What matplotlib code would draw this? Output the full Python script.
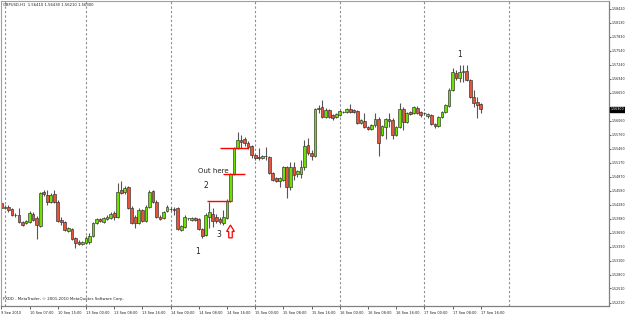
import matplotlib
matplotlib.use("Agg")
import matplotlib.pyplot as plt
import matplotlib.transforms as mtransforms
from matplotlib.patches import Polygon
import numpy as np

# ---------------- data (GBPUSD H1) ----------------
opens = [1.5432,1.5421,1.5423,1.5419,1.5406,1.5406,1.5391,1.5389,1.5391,1.5408,
         1.5400,1.5383,1.5455,1.5449,1.5434,1.5451,1.5434,1.5396,1.5392,1.5372,
         1.5377,1.5358,1.5349,1.5345,1.5347,1.5349,1.5362,1.5389,1.5398,1.5392,
         1.5398,1.5400,1.5411,1.5402,1.5459,1.5455,1.5466,1.5421,1.5402,1.5389,
         1.5417,1.5394,1.5423,1.5457,1.5434,1.5402,1.5400,1.5415,1.5420,1.5420,
         1.5421,1.5375,1.5381,1.5399,1.5396,1.5400,1.5398,1.5377,1.5364,1.5402,
         1.5408,1.5402,1.5398,1.5389,1.5400,1.5436,1.5493,1.5548,1.5565,1.5567,
         1.5559,1.5552,1.5533,1.5529,1.5527,1.5531,1.5529,1.5495,1.5484,1.5478,
         1.5480,1.5508,1.5466,1.5508,1.5493,1.5493,1.5508,1.5554,1.5537,1.5531,
         1.5633,1.5635,1.5614,1.5628,1.5618,1.5614,1.5618,1.5624,1.5624,1.5631,
         1.5628,1.5626,1.5601,1.5605,1.5592,1.5588,1.5597,1.5609,1.5576,1.5592,
         1.5609,1.5607,1.5576,1.5592,1.5631,1.5603,1.5624,1.5622,1.5633,1.5624,
         1.5621,1.5616,1.5618,1.5599,1.5595,1.5614,1.5624,1.5637,1.5671,1.5707,
         1.5696,1.5709,1.5711,1.5692,1.5656,1.5645,1.56410]
highs = [1.5438,1.5427,1.5427,1.5421,1.5411,1.5421,1.5394,1.5396,1.5415,1.5413,
         1.5404,1.5455,1.5459,1.5459,1.5453,1.5459,1.5438,1.5402,1.5394,1.5381,
         1.5379,1.5360,1.5353,1.5351,1.5362,1.5368,1.5392,1.5400,1.5400,1.5402,
         1.5406,1.5413,1.5415,1.5474,1.5478,1.5468,1.5468,1.5425,1.5406,1.5421,
         1.5419,1.5427,1.5459,1.5459,1.5438,1.5406,1.5415,1.5427,1.5423,1.5423,
         1.5423,1.5385,1.5406,1.5400,1.5402,1.5402,1.5400,1.5379,1.5411,1.5434,
         1.5421,1.5408,1.5402,1.5417,1.5440,1.5495,1.5550,1.5582,1.5576,1.5571,
         1.5563,1.5554,1.5535,1.5548,1.5533,1.5550,1.5531,1.5497,1.5487,1.5487,
         1.5510,1.5510,1.5518,1.5518,1.5501,1.5523,1.5565,1.5569,1.5544,1.5633,
         1.5639,1.5650,1.5633,1.5631,1.5620,1.5622,1.5628,1.5626,1.5633,1.5641,
         1.5631,1.5628,1.5609,1.5622,1.5594,1.5599,1.5622,1.5614,1.5597,1.5611,
         1.5622,1.5611,1.5594,1.5643,1.5635,1.5624,1.5626,1.5637,1.5637,1.5626,
         1.5624,1.5622,1.5620,1.5601,1.5616,1.5626,1.5641,1.5675,1.5717,1.5713,
         1.5724,1.5724,1.5724,1.5694,1.5671,1.5656,1.56430]
lows = [1.5417,1.5419,1.5413,1.5404,1.5402,1.5389,1.5383,1.5387,1.5389,1.5394,
        1.5355,1.5381,1.5447,1.5427,1.5432,1.5432,1.5392,1.5385,1.5372,1.5370,
        1.5353,1.5337,1.5343,1.5343,1.5345,1.5345,1.5360,1.5387,1.5392,1.5389,
        1.5396,1.5398,1.5396,1.5400,1.5451,1.5451,1.5419,1.5387,1.5379,1.5387,
        1.5392,1.5392,1.5421,1.5432,1.5400,1.5396,1.5398,1.5413,1.5415,1.5406,
        1.5375,1.5372,1.5379,1.5396,1.5394,1.5394,1.5375,1.5358,1.5362,1.5379,
        1.5381,1.5389,1.5387,1.5385,1.5398,1.5434,1.5491,1.5546,1.5548,1.5552,
        1.5546,1.5527,1.5523,1.5523,1.5525,1.5523,1.5493,1.5478,1.5476,1.5466,
        1.5478,1.5442,1.5459,1.5480,1.5487,1.5484,1.5501,1.5533,1.5523,1.5529,
        1.5622,1.5611,1.5611,1.5611,1.5607,1.5611,1.5616,1.5622,1.5622,1.5622,
        1.5622,1.5599,1.5599,1.5590,1.5586,1.5586,1.5592,1.5531,1.5573,1.5567,
        1.5592,1.5567,1.5573,1.5590,1.5586,1.5601,1.5618,1.5620,1.5620,1.5614,
        1.5618,1.5611,1.5597,1.5590,1.5592,1.5611,1.5622,1.5635,1.5669,1.5692,
        1.5688,1.5688,1.5690,1.5654,1.5635,1.5612,1.56210]
closes = [1.5421,1.5423,1.5417,1.5406,1.5407,1.5391,1.5385,1.5394,1.5411,1.5396,
          1.5385,1.5453,1.5451,1.5434,1.5449,1.5434,1.5394,1.5392,1.5375,1.5379,
          1.5356,1.5347,1.5345,1.5349,1.5358,1.5362,1.5389,1.5398,1.5394,1.5400,
          1.5402,1.5408,1.5402,1.5455,1.5453,1.5463,1.5421,1.5389,1.5389,1.5417,
          1.5394,1.5423,1.5455,1.5434,1.5402,1.5398,1.5413,1.5423,1.5419,1.5417,
          1.5377,1.5383,1.5402,1.5400,1.5400,1.5396,1.5377,1.5362,1.5406,1.5413,
          1.5394,1.5394,1.5391,1.5402,1.5436,1.5493,1.5548,1.5565,1.5561,1.5559,
          1.5550,1.5533,1.5527,1.5527,1.5531,1.5531,1.5495,1.5480,1.5478,1.5484,
          1.5508,1.5466,1.5508,1.5491,1.5499,1.5508,1.5552,1.5537,1.5531,1.5631,
          1.5631,1.5614,1.5628,1.5614,1.5611,1.5620,1.5626,1.5624,1.5631,1.5624,
          1.5624,1.5601,1.5607,1.5592,1.5588,1.5597,1.5609,1.5559,1.5595,1.5609,
          1.5605,1.5576,1.5592,1.5631,1.5603,1.5622,1.5620,1.5635,1.5622,1.5618,
          1.5622,1.5620,1.5599,1.5595,1.5614,1.5624,1.5639,1.5671,1.5709,1.5696,
          1.5709,1.5711,1.5692,1.5656,1.5643,1.5639,1.56300]

x_tick_labels = ["9 Sep 2010", "10 Sep 07:00", "10 Sep 15:00", "13 Sep 00:00",
                 "13 Sep 08:00", "13 Sep 16:00", "14 Sep 00:00", "14 Sep 08:00",
                 "14 Sep 16:00", "15 Sep 00:00", "15 Sep 08:00", "15 Sep 16:00",
                 "16 Sep 00:00", "16 Sep 08:00", "16 Sep 16:00", "17 Sep 00:00",
                 "17 Sep 08:00", "17 Sep 16:00"]
x_tick_step = 8
day_starts = [1, 24, 48, 72, 96, 120, 144]

y_tick_labels = ["1.58420", "1.58130", "1.57830", "1.57540", "1.57240", "1.56940",
                 "1.56650", "1.56060", "1.55760", "1.55460", "1.55170", "1.54870",
                 "1.54580", "1.54280", "1.53980", "1.53690", "1.53390", "1.53100",
                 "1.52800", "1.52510", "1.52210"]

title_text = "GBPUSD,H1  1.56410 1.56430 1.56210 1.56300"
footer_text = "FXDD - MetaTrader, \u00a9 2001-2010 MetaQuotes Software Corp."
current_price = "1.56300"

# ---------------- figure ----------------
W, H = 625, 314
fig = plt.figure(figsize=(W / 100, H / 100), dpi=100)
fig.patch.set_facecolor("white")
ax_l, ax_r, ax_t, ax_b = 1, 609, 1, 306
ax = fig.add_axes([ax_l / W, 1 - ax_b / H, (ax_r - ax_l) / W, (ax_b - ax_t) / H])
ax.set_facecolor("white")

n = len(opens)
xs = np.arange(n)
O = np.array(opens); Hh = np.array(highs); L = np.array(lows); C = np.array(closes)
up = C >= O

green = "#6ee000"
red = "#e4543a"
edge = "#2e2e2e"

# day separators
for d in day_starts:
    ax.axvline(d, color="#8c8c8c", lw=0.8, ls=(0, (2, 2)), zorder=0)

# wicks
ax.vlines(xs, L, Hh, color="#555555", lw=0.8, zorder=1)
# bodies
bw = 0.78
bottoms = np.minimum(O, C)
heights = np.abs(C - O)
ax.bar(xs[up], heights[up], bottom=bottoms[up], width=bw, color=green,
       edgecolor=edge, linewidth=0.45, zorder=2)
ax.bar(xs[~up], heights[~up], bottom=bottoms[~up], width=bw, color=red,
       edgecolor=edge, linewidth=0.45, zorder=2)

ax.set_xlim(-0.11, 172.4)
ax.set_ylim(1.52138, 1.58589)

# axes styling
for s in ["left", "top"]:
    ax.spines[s].set_color("#a0a0a0")
    ax.spines[s].set_linewidth(0.8)
for s in ["right", "bottom"]:
    ax.spines[s].set_color("#808080")
    ax.spines[s].set_linewidth(0.9)

ax.yaxis.tick_right()
ax.set_yticks([float(t) for t in y_tick_labels])
ax.set_yticklabels(y_tick_labels)
ax.tick_params(axis="y", labelsize=2.3, length=1.5, width=0.5, pad=0.6,
               colors="#202020", direction="out")
ax.set_xticks(np.arange(len(x_tick_labels)) * x_tick_step)
ax.set_xticklabels(x_tick_labels, ha="left")
ax.tick_params(axis="x", labelsize=2.5, length=2, width=0.5, pad=1.5,
               colors="#202020", direction="out")

# current price marker
trans = mtransforms.blended_transform_factory(ax.transAxes, ax.transData)
ax.text(1.0035, float(current_price), current_price, transform=trans,
        fontsize=2.3, color="white", va="center", ha="left",
        bbox=dict(boxstyle="square,pad=0.2", fc="black", ec="black"), clip_on=False)

# red marker lines at closes of the breakout candles
ax.hlines(C[64], 58.3, 65.1, color="red", lw=1.0, zorder=3)
ax.hlines(C[65], 62.9, 69.1, color="red", lw=1.0, zorder=3)
ax.hlines(C[66], 62.0, 70.0, color="red", lw=1.0, zorder=3)

# annotations
fs = 5.5
ax.text(55.8, 1.5330, "1", fontsize=fs, ha="center", va="center", color="#222222")
ax.text(61.7, 1.5364, "3", fontsize=fs, ha="center", va="center", color="#222222")
ax.text(57.9, 1.5468, "2", fontsize=fs, ha="center", va="center", color="#222222")
ax.text(60.0, 1.5499, "Out here", fontsize=5.0, ha="center", va="center", color="#222222")
ax.text(130.1, 1.5745, "1", fontsize=fs, ha="center", va="center", color="#222222")

# hollow up arrow
ax_x, base, tip = 65.0, 1.5358, 1.5385
shaft_w, head_w = 0.5, 1.1
mid = base + (tip - base) * 0.5
arrow = Polygon([(ax_x - shaft_w, base), (ax_x + shaft_w, base), (ax_x + shaft_w, mid),
                 (ax_x + head_w, mid), (ax_x, tip), (ax_x - head_w, mid),
                 (ax_x - shaft_w, mid)], closed=True, fc="white", ec="red", lw=0.9, zorder=4)
ax.add_patch(arrow)

# texts
fig.text(3 / W, 1 - 5 / H, title_text, fontsize=2.7, color="#202020", va="center", ha="left")
fig.text(3 / W, 1 - 299 / H, footer_text, fontsize=2.8, color="#202020", va="center", ha="left")

fig.savefig("out.png", dpi=100, facecolor="white")
